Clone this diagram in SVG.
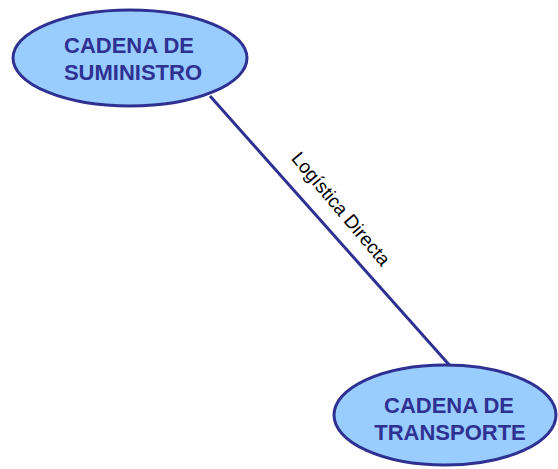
<svg xmlns="http://www.w3.org/2000/svg" width="558" height="469" viewBox="0 0 558 469">
<style>
.node ellipse{fill:#99CCFF;stroke:#2E3192;stroke-width:3}
.node text{font-family:"Liberation Sans",Arial,sans-serif;font-weight:bold;font-size:22px;fill:#2E3192;text-anchor:middle}
.edge{stroke:#2E3192;stroke-width:3;fill:none}
.lbl{font-family:"Liberation Sans",Arial,sans-serif;font-size:19px;fill:#000;text-anchor:middle}
</style>
<rect width="558" height="469" fill="#fff"/>
<g id="connectors">
<line class="edge" x1="210" y1="96" x2="452" y2="368"/>
<text class="lbl" transform="translate(336,213) rotate(50)">Logística Directa</text>
</g>
<g id="n1" class="node">
<ellipse cx="130" cy="58" rx="117" ry="48"/>
<text x="129" y="53">CADENA DE</text>
<text x="133" y="80">SUMINISTRO</text>
</g>
<g id="n2" class="node">
<ellipse cx="445" cy="415" rx="111" ry="50"/>
<text x="449" y="413">CADENA DE</text>
<text x="450" y="440">TRANSPORTE</text>
</g>
</svg>
